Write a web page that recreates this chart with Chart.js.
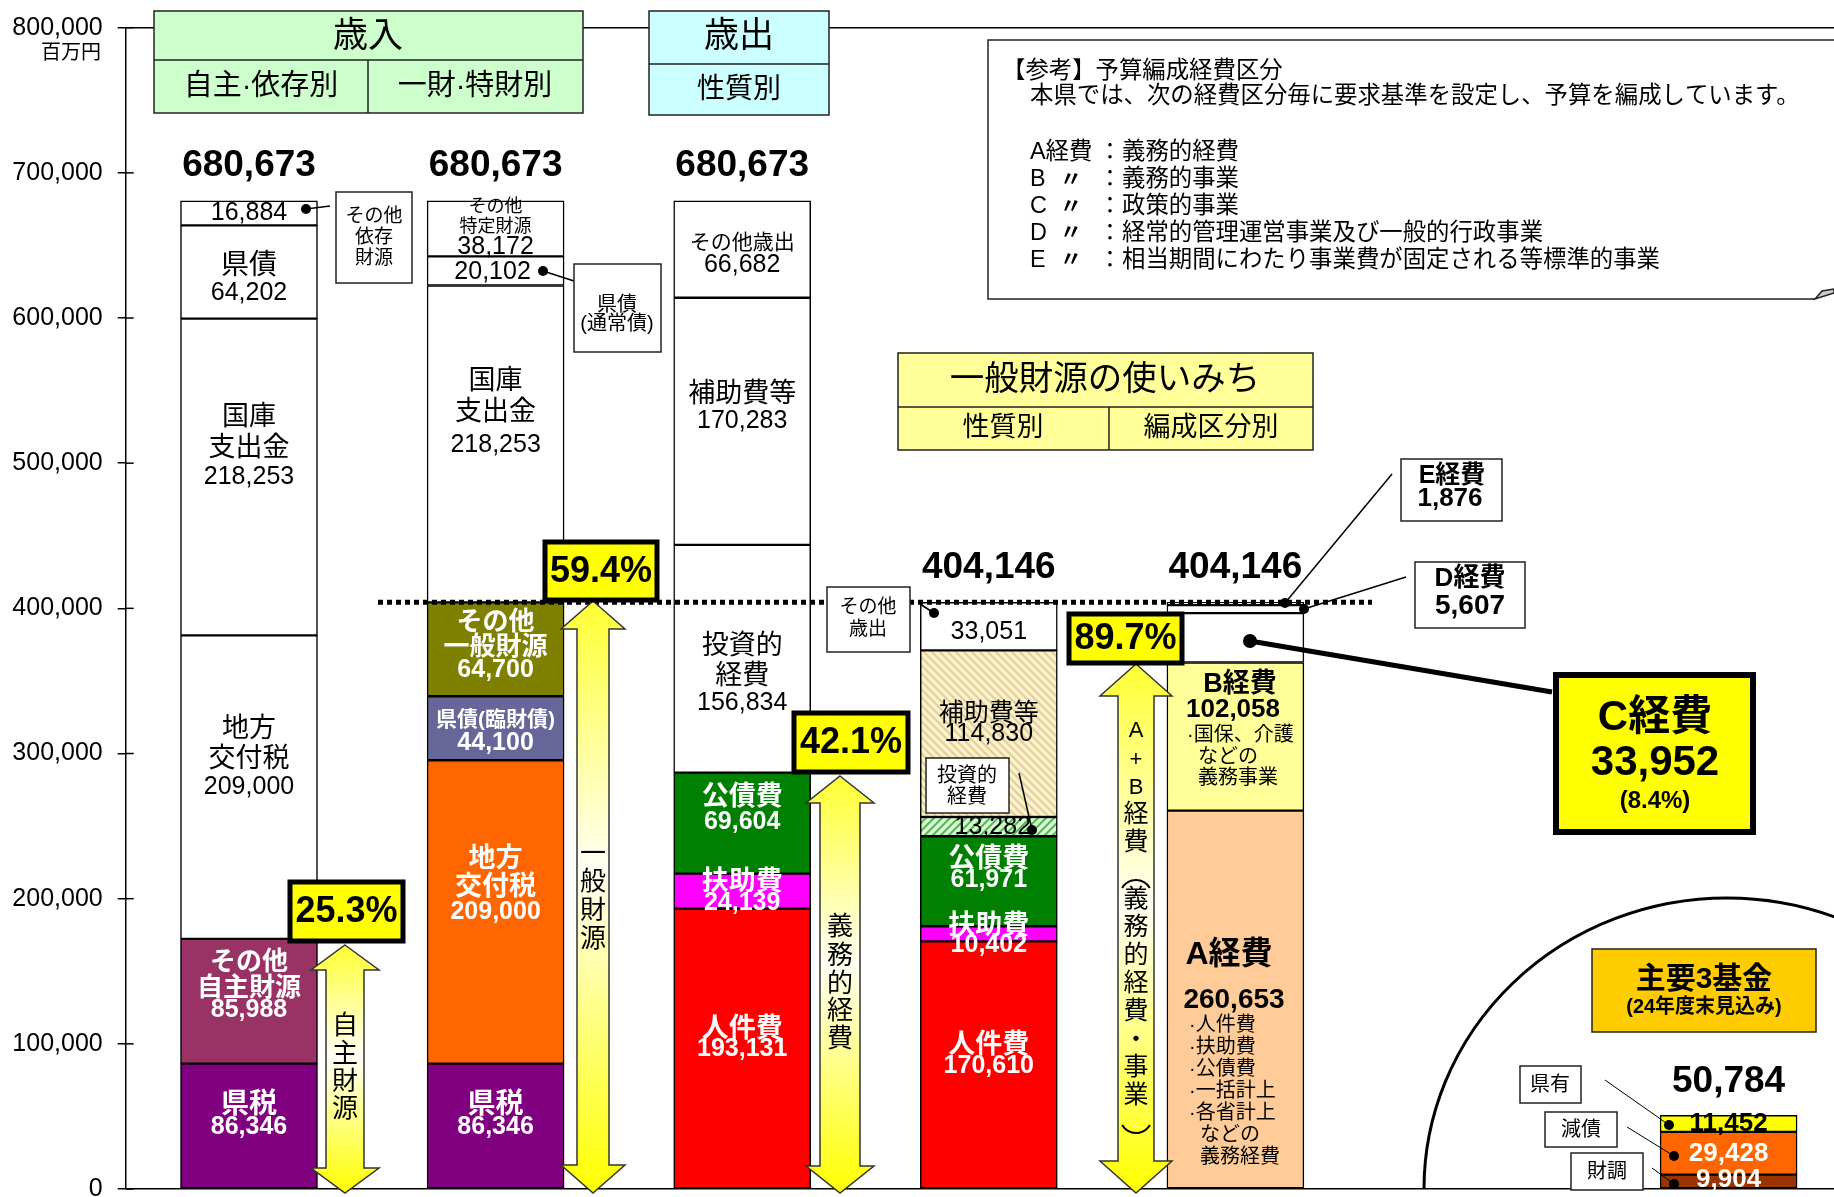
<!DOCTYPE html>
<html>
<head>
<meta charset="utf-8">
<script src="https://cdn.jsdelivr.net/npm/chart.js@4.4.1/dist/chart.umd.min.js"></script>
<style>
html,body{margin:0;padding:0;background:#fff;overflow:hidden}
canvas{display:block}
</style>
</head>
<body>
<canvas id="chart" width="1834" height="1197"></canvas>
<script>
// 歳入（自主・依存別）下から順
const srcLabels = ['県税','その他自主財源','地方交付税','国庫支出金','県債','その他依存財源'];
const srcValues = [86346, 85988, 209000, 218253, 64202, 16884];
// 歳入（一財・特財別）
const finLabels = ['県税','地方交付税','県債(臨財債)','その他一般財源','国庫支出金','県債(通常債)','その他特定財源'];
const finValues = [86346, 209000, 44100, 64700, 218253, 20102, 38172];
// 歳出（性質別）
const expLabels = ['人件費','扶助費','公債費','投資的経費','補助費等','その他歳出'];
const expValues = [193131, 24139, 69604, 156834, 170283, 66682];
// 一般財源の使いみち（性質別）
const useLabels = ['人件費','扶助費','公債費','投資的経費','補助費等','その他歳出'];
const useValues = [170610, 10402, 61971, 13282, 114830, 33051];
// 一般財源の使いみち（編成区分別）
const clsLabels = ['A経費','B経費','C経費','D経費','E経費'];
const clsValues = [260653, 102058, 33952, 5607, 1876];
// 主要3基金（24年度末見込み）
const fundLabels = ['財調','減債','県有'];
const fundValues = [9904, 29428, 11452];

const pctLabels = ['25.3%','59.4%','42.1%','89.7%','(8.4%)'];
const yTicks = [0,100000,200000,300000,400000,500000,600000,700000,800000];
const barX = [0,1,2,3,4,6];

const FONT = '"Liberation Sans", "Noto Sans CJK JP", sans-serif';
Chart.defaults.font.family = FONT;

var cv = document.getElementById('chart');
var mainCtx = cv.getContext('2d');

function hatch(bg, fg, dir){
    var c = document.createElement('canvas');
    c.width = 8; c.height = 8;
    var g = c.getContext('2d');
    g.fillStyle = bg; g.fillRect(0,0,8,8);
    g.strokeStyle = fg; g.lineWidth = 2;
    g.beginPath();
    if(dir>0){
        g.moveTo(-2,10); g.lineTo(10,-2);
        g.moveTo(-2,2); g.lineTo(2,-2);
        g.moveTo(6,10); g.lineTo(10,6);
    }else{
        g.moveTo(-2,-2); g.lineTo(10,10);
        g.moveTo(-2,6); g.lineTo(2,10);
        g.moveTo(6,-2); g.lineTo(10,2);
    }
    g.stroke();
    return mainCtx.createPattern(c,'repeat');
}
var tanHatch = hatch('#FBF1CF','#E3CF8E',-1);
var greenHatch = hatch('#D8FAD0','#5DB35D',1);

var srcColors = ['#800080','#993366','#FFFFFF','#FFFFFF','#FFFFFF','#FFFFFF'];
var finColors = ['#800080','#FF6600','#666699','#808000','#FFFFFF','#FFFFFF','#FFFFFF'];
var expColors = ['#FF0000','#FF00FF','#008000','#FFFFFF','#FFFFFF','#FFFFFF'];
var useColors = ['#FF0000','#FF00FF','#008000',greenHatch,tanHatch,'#FFFFFF'];
var clsColors = ['#FFCC99','#FFFF99','#FFFFFF','#FFFFFF','#FFFFFF'];
var fundColors = ['#993300','#FF6600','#FFFF00'];

function segs(values, x){
    var s = 0;
    return values.map(function(v){
        var d = {x:x, y:[s, s+v]};
        s += v;
        return d;
    });
}
function sum(a){ return a.reduce(function(p,v){return p+v;},0); }
function fmt(v){ return v.toLocaleString('en-US'); }

function ds(label, values, x, colors){
    return {
        label: label,
        data: segs(values, x),
        backgroundColor: colors,
        borderColor: '#000',
        borderWidth: 1.5,
        borderSkipped: false,
        barThickness: 137,
        grouped: false
    };
}

// ---------- drawing helpers
function T(ctx, s, x, y, size, bold, color, align){
    ctx.font = (bold ? 'bold ' : '') + size + 'px ' + FONT;
    ctx.fillStyle = color || '#000';
    ctx.textAlign = align || 'center';
    ctx.textBaseline = 'middle';
    ctx.fillText(s, x, y);
}
function B(ctx, x1, y1, x2, y2, fill, lw, stroke){
    ctx.fillStyle = fill || '#fff';
    ctx.fillRect(x1, y1, x2-x1, y2-y1);
    ctx.lineWidth = lw || 1.5;
    ctx.strokeStyle = stroke || '#222';
    ctx.strokeRect(x1, y1, x2-x1, y2-y1);
}
function L(ctx, x1, y1, x2, y2, lw, color){
    ctx.beginPath();
    ctx.moveTo(x1,y1); ctx.lineTo(x2,y2);
    ctx.lineWidth = lw || 1.5;
    ctx.strokeStyle = color || '#000';
    ctx.stroke();
}
function D(ctx, x, y, r){
    ctx.beginPath();
    ctx.arc(x, y, r || 5, 0, Math.PI*2);
    ctx.fillStyle = '#000';
    ctx.fill();
}
function arrow(ctx, cx, top, bottom, hh, sh, hl){
    var g = ctx.createLinearGradient(0, top, 0, bottom);
    g.addColorStop(0, '#FFFF33');
    g.addColorStop(0.45, '#FFFFF4');
    g.addColorStop(1, '#FFFF00');
    ctx.beginPath();
    ctx.moveTo(cx, top);
    ctx.lineTo(cx+hh, top+hl);
    ctx.lineTo(cx+sh, top+hl);
    ctx.lineTo(cx+sh, bottom-hl);
    ctx.lineTo(cx+hh, bottom-hl);
    ctx.lineTo(cx, bottom);
    ctx.lineTo(cx-hh, bottom-hl);
    ctx.lineTo(cx-sh, bottom-hl);
    ctx.lineTo(cx-sh, top+hl);
    ctx.lineTo(cx-hh, top+hl);
    ctx.closePath();
    ctx.fillStyle = g;
    ctx.fill();
    ctx.lineWidth = 1.5;
    ctx.strokeStyle = '#333';
    ctx.stroke();
}
function VT(ctx, chars, x, ys, size){
    for(var i=0;i<chars.length;i++){
        T(ctx, chars[i], x, ys[i], size);
    }
}
function pbox(ctx, x1, y1, x2, y2, s){
    B(ctx, x1, y1, x2, y2, '#FFFF00', 5, '#000');
    T(ctx, s, (x1+x2)/2, (y1+y2)/2+1, 36, true);
}

var annot = {
    id: 'annot',
    afterDatasetsDraw: function(chart){
        var ctx = chart.ctx;
        var xs = chart.scales.x, ys = chart.scales.y;
        var cx = barX.map(function(v){ return xs.getPixelForValue(v); });
        var ax = chart.chartArea.left;
        ctx.save();

        // y axis tick stubs to the right and unit
        yTicks.forEach(function(v){
            var y = ys.getPixelForValue(v);
            L(ctx, ax, y, ax+8, y, 1.5, '#000');
        });
        T(ctx, '百万円', 101, 53, 20, false, '#000', 'right');

        // header boxes
        B(ctx, 154, 11, 583, 113, '#CCFFCC');
        L(ctx, 154, 60, 583, 60, 1.5, '#222');
        L(ctx, 368, 60, 368, 113, 1.5, '#222');
        T(ctx, '歳入', 368, 37, 35);
        T(ctx, '自主·依存別', 261, 87, 29);
        T(ctx, '一財·特財別', 475, 87, 29);
        B(ctx, 649, 11, 829, 115, '#CCFFFF');
        L(ctx, 649, 64, 829, 64, 1.5, '#222');
        T(ctx, '歳出', 739, 37, 35);
        T(ctx, '性質別', 739, 90, 28);

        // reference box
        ctx.beginPath();
        ctx.moveTo(1834, 40); ctx.lineTo(988, 40); ctx.lineTo(988, 299); ctx.lineTo(1815, 299);
        ctx.lineWidth = 1.5; ctx.strokeStyle = '#222'; ctx.stroke();
        ctx.beginPath();
        ctx.moveTo(1815, 299); ctx.lineTo(1822, 291); ctx.lineTo(1834, 289); ctx.lineTo(1834, 293); ctx.closePath();
        ctx.fillStyle = '#ccc'; ctx.fill(); ctx.stroke();
        T(ctx, '【参考】予算編成経費区分', 1002, 72, 23.4, false, '#000', 'left');
        T(ctx, '本県では、次の経費区分毎に要求基準を設定し、予算を編成しています。', 1030, 97, 23.4, false, '#000', 'left');
        var refRows = [['A経費','義務的経費'],['B','義務的事業'],['C','政策的事業'],['D','経常的管理運営事業及び一般的行政事業'],['E','相当期間にわたり事業費が固定される等標準的事業']];
        refRows.forEach(function(r, i){
            var y = 153 + i*26.8;
            T(ctx, r[0], 1030, y, 23.4, false, '#000', 'left');
            if(i>0) T(ctx, '〃', 1071, y, 22, true);
            T(ctx, '：', 1110, y, 23);
            T(ctx, r[1], 1122, y, 23.4, false, '#000', 'left');
        });

        // 一般財源の使いみち header
        B(ctx, 898, 353, 1313, 450, '#FFFF99');
        L(ctx, 898, 407, 1313, 407, 1.5, '#222');
        L(ctx, 1109, 407, 1109, 450, 1.5, '#222');
        T(ctx, '一般財源の使いみち', 1105, 380, 34.5);
        T(ctx, '性質別', 1003, 429, 27);
        T(ctx, '編成区分別', 1211, 429, 27);

        // totals
        T(ctx, fmt(sum(srcValues)), cx[0], 166, 37, true);
        T(ctx, fmt(sum(finValues)), cx[1], 166, 37, true);
        T(ctx, fmt(sum(expValues)), cx[2], 166, 37, true);
        T(ctx, fmt(sum(useValues)), cx[3], 568, 37, true);
        T(ctx, fmt(sum(clsValues)), cx[4], 568, 37, true);
        T(ctx, fmt(sum(fundValues)), cx[5], 1082, 37, true);

        // general revenue dotted line
        var gy = ys.getPixelForValue(sum(useValues));
        ctx.beginPath();
        ctx.setLineDash([5,4]);
        ctx.moveTo(378, gy); ctx.lineTo(1372, gy);
        ctx.lineWidth = 5; ctx.strokeStyle = '#000'; ctx.stroke();
        ctx.setLineDash([]);

        var W = '#fff';
        // ---- bar 1
        var c = cx[0];
        T(ctx, fmt(srcValues[5]), c, 213, 25);
        D(ctx, 306, 209, 5); L(ctx, 306, 209, 330, 206);
        B(ctx, 336, 192, 412, 283);
        T(ctx, 'その他', 374, 217, 19); T(ctx, '依存', 374, 238, 19); T(ctx, '財源', 374, 259, 19);
        T(ctx, '県債', c, 266, 28); T(ctx, fmt(srcValues[4]), c, 293, 25);
        T(ctx, '国庫', c, 418, 27); T(ctx, '支出金', c, 449, 27); T(ctx, fmt(srcValues[3]), c, 477, 25);
        T(ctx, '地方', c, 730, 27); T(ctx, '交付税', c, 760, 27); T(ctx, fmt(srcValues[2]), c, 787, 25);
        T(ctx, 'その他', c, 963, 26, true, W); T(ctx, '自主財源', c, 989, 26, true, W); T(ctx, fmt(srcValues[1]), c, 1010, 25, true, W);
        T(ctx, '県税', c, 1105, 28, true, W); T(ctx, fmt(srcValues[0]), c, 1127, 25, true, W);

        // ---- bar 2
        c = cx[1];
        T(ctx, 'その他', c, 207, 18); T(ctx, '特定財源', c, 227, 18); T(ctx, fmt(finValues[6]), c, 247, 25);
        T(ctx, fmt(finValues[5]), c-3, 272, 25);
        D(ctx, 543, 271, 5); L(ctx, 543, 271, 574, 281);
        B(ctx, 574, 264, 661, 352);
        T(ctx, '県債', 617, 305, 20); T(ctx, '(通常債)', 617, 324, 20);
        T(ctx, '国庫', c, 382, 27); T(ctx, '支出金', c, 413, 27); T(ctx, fmt(finValues[4]), c, 445, 25);
        T(ctx, 'その他', c, 623, 26, true, W); T(ctx, '一般財源', c, 648, 26, true, W); T(ctx, fmt(finValues[3]), c, 670, 25, true, W);
        T(ctx, '県債(臨財債)', c, 720, 21, true, W); T(ctx, fmt(finValues[2]), c, 743, 25, true, W);
        T(ctx, '地方', c, 860, 27, true, W); T(ctx, '交付税', c, 888, 27, true, W); T(ctx, fmt(finValues[1]), c, 912, 25, true, W);
        T(ctx, '県税', c, 1105, 28, true, W); T(ctx, fmt(finValues[0]), c, 1127, 25, true, W);

        // ---- bar 3
        c = cx[2];
        T(ctx, 'その他歳出', c, 243, 21); T(ctx, fmt(expValues[5]), c, 265, 25);
        T(ctx, '補助費等', c, 395, 27); T(ctx, fmt(expValues[4]), c, 421, 25);
        T(ctx, '投資的', c, 647, 27); T(ctx, '経費', c, 677, 27); T(ctx, fmt(expValues[3]), c, 703, 25);
        T(ctx, '公債費', c, 798, 27, true, W); T(ctx, fmt(expValues[2]), c, 822, 25, true, W);
        T(ctx, '扶助費', c, 883, 27, true, W); T(ctx, fmt(expValues[1]), c, 903, 25, true, W);
        T(ctx, '人件費', c, 1030, 27, true, W); T(ctx, fmt(expValues[0]), c, 1049, 25, true, W);

        // ---- bar 4
        c = cx[3];
        B(ctx, 827, 587, 910, 652);
        T(ctx, 'その他', 868, 608, 19); T(ctx, '歳出', 868, 630, 19);
        L(ctx, 920, 604, 934, 613); D(ctx, 934, 613, 5);
        T(ctx, fmt(useValues[5]), c, 632, 25);
        T(ctx, '補助費等', c, 714, 25); T(ctx, fmt(useValues[4]), c, 734, 25);
        B(ctx, 926, 758, 1009, 813);
        T(ctx, '投資的', 967, 776, 20); T(ctx, '経費', 967, 797, 20);
        L(ctx, 1019, 773, 1032, 830); D(ctx, 1032, 830, 5);
        T(ctx, fmt(useValues[3]), c+4, 827, 25);
        T(ctx, '公債費', c, 860, 27, true, W); T(ctx, fmt(useValues[2]), c, 880, 25, true, W);
        T(ctx, '扶助費', c, 927, 27, true, W); T(ctx, fmt(useValues[1]), c, 945, 25, true, W);
        T(ctx, '人件費', c, 1046, 27, true, W); T(ctx, fmt(useValues[0]), c, 1066, 25, true, W);

        // ---- bar 5
        T(ctx, 'B経費', 1240, 685, 27, true); T(ctx, fmt(clsValues[1]), 1233, 710, 26, true);
        T(ctx, '·国保、介護', 1187, 735, 20, false, '#000', 'left');
        T(ctx, 'などの', 1198, 757, 20, false, '#000', 'left');
        T(ctx, '義務事業', 1198, 778, 20, false, '#000', 'left');
        T(ctx, 'A経費', 1229, 955, 32, true); T(ctx, fmt(clsValues[0]), 1234, 1000, 28, true);
        var aItems = ['·人件費','·扶助費','·公債費','·一括計上','·各省計上'];
        aItems.forEach(function(s, i){ T(ctx, s, 1189, 1025 + i*22, 20, false, '#000', 'left'); });
        T(ctx, 'などの', 1200, 1135, 20, false, '#000', 'left');
        T(ctx, '義務経費', 1200, 1157, 20, false, '#000', 'left');
        // E / D callouts
        L(ctx, 1285, 603, 1392, 474); D(ctx, 1285, 603, 5);
        B(ctx, 1401, 459, 1502, 521);
        T(ctx, 'E経費', 1452, 476, 25, true); T(ctx, fmt(clsValues[4]), 1450, 499, 26, true);
        L(ctx, 1304, 609, 1406, 577); D(ctx, 1304, 609, 5);
        B(ctx, 1415, 562, 1525, 628);
        T(ctx, 'D経費', 1470, 579, 26, true); T(ctx, fmt(clsValues[3]), 1470, 606, 28, true);
        // C callout
        L(ctx, 1250, 641, 1552, 692, 5); D(ctx, 1250, 641, 7);
        B(ctx, 1556, 675, 1753, 832, '#FFFF00', 6, '#000');
        T(ctx, 'C経費', 1655, 718, 42, true);
        T(ctx, fmt(clsValues[2]), 1655, 763, 42, true);
        T(ctx, pctLabels[4], 1655, 801, 24, true);

        // ---- funds
        ctx.beginPath();
        ctx.ellipse(1727, 1189, 303, 291, 0, Math.PI, Math.PI*2);
        ctx.lineWidth = 3; ctx.strokeStyle = '#000'; ctx.stroke();
        B(ctx, 1592, 949, 1816, 1032, '#FFCC00');
        T(ctx, '主要3基金', 1704, 980, 30, true);
        T(ctx, '(24年度末見込み)', 1704, 1007, 20, true);
        c = cx[5];
        T(ctx, fmt(fundValues[2]), c, 1124, 26, true, '#000');
        T(ctx, fmt(fundValues[1]), c, 1154, 26, true, W);
        T(ctx, fmt(fundValues[0]), c, 1180, 26, true, W);
        B(ctx, 1520, 1066, 1581, 1103); T(ctx, fundLabels[2], 1550, 1085, 20);
        B(ctx, 1545, 1112, 1617, 1147); T(ctx, fundLabels[1], 1581, 1130, 20);
        B(ctx, 1571, 1153, 1643, 1190); T(ctx, fundLabels[0], 1607, 1172, 20);
        L(ctx, 1605, 1080, 1669, 1125, 1); D(ctx, 1669, 1125, 5);
        L(ctx, 1627, 1127, 1674, 1156, 1); D(ctx, 1674, 1156, 5);
        L(ctx, 1652, 1168, 1674, 1184, 1); D(ctx, 1674, 1184, 5);

        // ---- arrows
        arrow(ctx, 345, 945, 1193, 34, 19, 25);
        VT(ctx, ['自','主','財','源'], 345, [1027,1055,1083,1110], 26);
        arrow(ctx, 593, 601, 1193, 32, 16, 28);
        VT(ctx, ['一','般','財','源'], 593, [855,883,912,940], 26);
        arrow(ctx, 840, 776, 1193, 34, 20, 27);
        VT(ctx, ['義','務','的','経','費'], 840, [928,957,985,1012,1040], 26);
        arrow(ctx, 1136, 664, 1193, 36, 18, 32);
        VT(ctx, ['A','+','B'], 1136, [731,760,788], 22);
        VT(ctx, ['経','費','義','務','的','経','費','・','事','業'], 1136, [815,843,900,928,956,984,1012,1041,1068,1096], 25);
        ctx.beginPath(); ctx.arc(1136, 896, 16, Math.PI*7/6, Math.PI*11/6);
        ctx.lineWidth = 2; ctx.strokeStyle = '#000'; ctx.stroke();
        ctx.beginPath(); ctx.arc(1136, 1117, 16, Math.PI/6, Math.PI*5/6); ctx.stroke();

        // ---- percent boxes
        pbox(ctx, 290, 882, 403, 941, pctLabels[0]);
        pbox(ctx, 545, 542, 657, 600, pctLabels[1]);
        pbox(ctx, 794, 713, 908, 772, pctLabels[2]);
        pbox(ctx, 1069, 614, 1182, 663, pctLabels[3]);

        ctx.restore();
    }
};

new Chart(cv, {
    type: 'bar',
    data: {
        datasets: [
            ds('歳入（自主・依存別）', srcValues, barX[0], srcColors),
            ds('歳入（一財・特財別）', finValues, barX[1], finColors),
            ds('歳出（性質別）', expValues, barX[2], expColors),
            ds('一般財源（性質別）', useValues, barX[3], useColors),
            ds('一般財源（編成区分別）', clsValues, barX[4], clsColors),
            ds('主要3基金', fundValues, barX[5], fundColors)
        ]
    },
    options: {
        responsive: false,
        devicePixelRatio: 1,
        animation: false,
        layout: { padding: { top: 27.7, bottom: 8, left: 0, right: 0 } },
        plugins: { legend: { display: false }, tooltip: { enabled: false } },
        scales: {
            x: { type: 'linear', offset: false, min: -0.5, max: -0.5 + 1708.3/246.6, display: false },
            y: {
                min: 0, max: 800000,
                afterBuildTicks: function(s){ s.ticks = yTicks.map(function(v){ return {value: v}; }); },
                afterFit: function(s){ s.width = 125.7; s.paddingTop = 0; s.paddingBottom = 0; },
                ticks: {
                    color: '#000', padding: 15,
                    font: { size: 25, family: '"Liberation Sans"' },
                    callback: function(v){ return fmt(v); }
                },
                grid: {
                    color: function(c){ return (c.tick && (c.tick.value === 0 || c.tick.value === 800000)) ? '#000' : 'rgba(0,0,0,0)'; },
                    lineWidth: 1.5, tickColor: '#000', tickLength: 8
                },
                border: { color: '#000', width: 1.5 }
            }
        }
    },
    plugins: [annot]
});
</script>
</body>
</html>
